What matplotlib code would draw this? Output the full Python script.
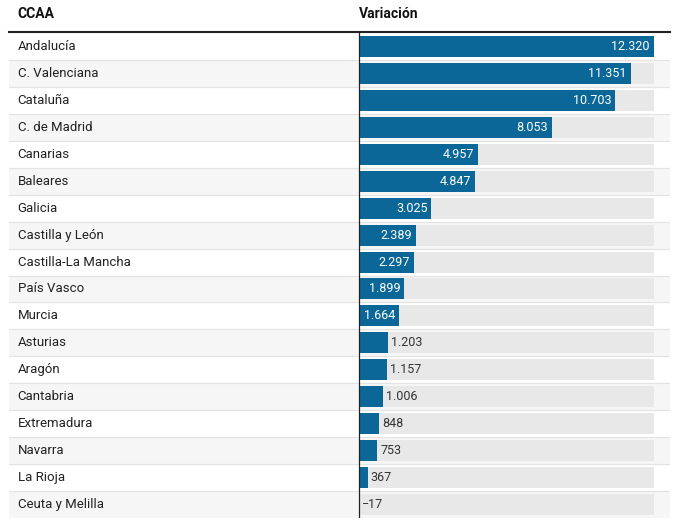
import numpy as np
import matplotlib.pyplot as plt

# Data
regions = ['Andalucía', 'C. Valenciana', 'Cataluña', 'C. de Madrid', 'Canarias', 'Baleares',
           'Galicia', 'Castilla y León', 'Castilla-La Mancha', 'País Vasco', 'Murcia', 'Asturias',
           'Aragón', 'Cantabria', 'Extremadura', 'Navarra', 'La Rioja', 'Ceuta y Melilla']
values = [12320, 11351, 10703, 8053, 4957, 4847, 3025, 2389, 2297, 1899, 1664, 1203,
          1157, 1006, 848, 753, 367, -17]

W, H = 689, 527
blue = '#0b6797'
plt.rcParams['font.family'] = ['Roboto', 'DejaVu Sans']

fig = plt.figure(figsize=(W/100, H/100), dpi=100)
# axes covering the table rows, in pixel terms: x 9..670, y 33..518
x0, x1, y0, y1 = 9, 670, 33, 518
ax = fig.add_axes([x0/W, 1 - y1/H, (x1-x0)/W, (y1-y0)/H])
vmax = max(values)
zero_px, max_px = 359, 654
scale = vmax / (max_px - zero_px)
ax.set_xlim(-(zero_px - x0)*scale, (x1 - zero_px)*scale)
n = len(regions)
ax.set_ylim(n - 0.5, -0.5)
ax.axis('off')

y = np.arange(n)
for i in y:
    if i % 2 == 1:
        ax.axhspan(i - 0.5, i + 0.5, color='#f6f6f6', zorder=0)
    if i > 0:
        ax.axhline(i - 0.5, color='#e3e3e3', lw=0.8, zorder=1)

ax.barh(y, [vmax]*n, height=0.78, color='#e8e8e8', zorder=2)
ax.barh(y, values, height=0.78, color=blue, zorder=3)
ax.axvline(0, color='#222222', lw=0.9, zorder=4)

def fmt(v):
    s = '{:,}'.format(abs(v)).replace(',', '.')
    return ('\u2212' + s) if v < 0 else s

for i, (r, v) in enumerate(zip(regions, values)):
    ax.text(0.013, i, r, transform=ax.get_yaxis_transform(), va='center', ha='left',
            fontsize=9.5, color='#222222')
    if v > 1500:
        ax.text(v - 4*scale, i, fmt(v), va='center', ha='right', fontsize=9, color='white', zorder=5)
    else:
        ax.text(max(v, 0) + 3*scale, i, fmt(v), va='center', ha='left', fontsize=9,
                color='#333333', zorder=5)

fig.text(17/W, 1 - 14/H, 'CCAA', fontsize=10, fontweight='bold', va='center', color='#111111')
fig.text(359/W, 1 - 14/H, 'Variación', fontsize=10, fontweight='bold', va='center', color='#111111')
fig.add_artist(plt.Line2D([x0/W, x1/W], [1 - 32/H, 1 - 32/H], color='#222222', lw=1.5))

fig.savefig('out.png', dpi=100)
